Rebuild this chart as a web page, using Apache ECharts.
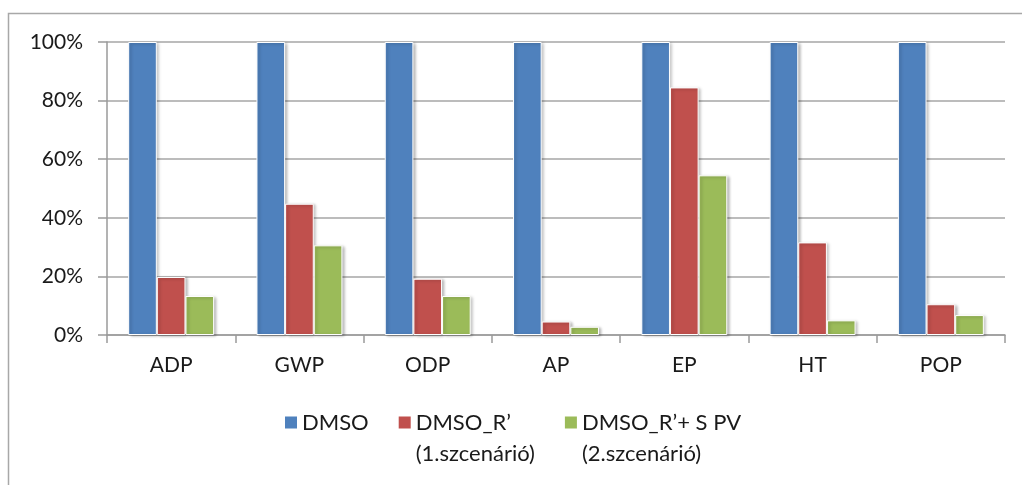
<!DOCTYPE html>
<html>
<head>
<meta charset="utf-8">
<script src="https://cdn.jsdelivr.net/npm/echarts@6/dist/echarts.min.js"></script>
<style>
    html, body { margin: 0; padding: 0; background: #fff; }
    #chart { width: 1022px; height: 485px; }
</style>
</head>
<body>
<div id="chart"></div>
<script>
    // categories and series (values in %)
    var categories = ['ADP', 'GWP', 'ODP', 'AP', 'EP', 'HT', 'POP'];
    var seriesNames = ['DMSO\n ', 'DMSO_R’\n(1.szcenárió)', 'DMSO_R’+ S PV\n(2.szcenárió)'];
    var dmso = [100, 100, 100, 100, 100, 100, 100];
    var dmsoR = [19.8, 44.8, 19.2, 4.6, 84.5, 31.6, 10.5];
    var dmsoRSPV = [13.3, 30.6, 13.3, 2.8, 54.5, 5.0, 6.8];
    var yTicks = [0, 20, 40, 60, 80, 100];

    var colors = ['#4F81BD', '#C0504D', '#9BBB59'];
    var fontName = 'Lato';

    var myChart = echarts.init(document.getElementById('chart'));

    var seriesData = [dmso, dmsoR, dmsoRSPV];
    var temp_series = [];
    for (var i = 0; i < seriesData.length; i++) {
        temp_series.push({
            name: seriesNames[i],
            type: 'bar',
            barGap: '0%',
            barCategoryGap: '33%',
            itemStyle: {
                color: colors[i],
                borderColor: '#ffffff',
                borderWidth: 1,
                shadowColor: 'rgba(0,0,0,0.28)',
                shadowBlur: 3,
                shadowOffsetX: 2,
                shadowOffsetY: 1
            },
            data: seriesData[i]
        });
    }

    // square on top of a tall (empty) box, so the icon sits by the first text line
    var legendIcon = 'path://M0,0L12,0L12,12L0,12Z M0,43L0.01,43';

    var option = {
        animation: false,
        color: colors,
        graphic: [{
            type: 'rect',
            shape: {x: 8.5, y: 13.5, width: 1100, height: 600},
            style: {fill: null, stroke: '#a8a8a8', lineWidth: 1.5},
            silent: true
        }],
        grid: {
            left: 107,
            right: 17,
            top: 42,
            bottom: 150
        },
        legend: {
            data: seriesNames,
            left: 285,
            top: 407,
            padding: 0,
            itemWidth: 12,
            itemHeight: 43,
            itemGap: 30,
            icon: legendIcon,
            itemStyle: {borderWidth: 0, shadowBlur: 0, shadowOffsetX: 0, shadowOffsetY: 0},
            textStyle: {
                fontFamily: fontName,
                fontSize: 22,
                color: '#1a1a1a',
                lineHeight: 31
            }
        },
        xAxis: {
            type: 'category',
            data: categories,
            axisLine: {lineStyle: {color: '#9a9a9a', width: 1.5}},
            axisTick: {show: true, length: 8, lineStyle: {color: '#9a9a9a', width: 1.5}},
            axisLabel: {
                fontFamily: fontName,
                fontSize: 21,
                color: '#1a1a1a',
                margin: 20
            }
        },
        yAxis: {
            type: 'value',
            min: yTicks[0],
            max: yTicks[yTicks.length - 1],
            interval: 20,
            axisLine: {show: true, lineStyle: {color: '#9a9a9a', width: 1.5}},
            axisTick: {show: true, length: 9, lineStyle: {color: '#9a9a9a', width: 1.5}},
            splitLine: {lineStyle: {color: '#a6a6a6', width: 1.5}},
            axisLabel: {
                fontFamily: fontName,
                fontSize: 21,
                color: '#1a1a1a',
                margin: 24,
                formatter: '{value}%'
            }
        },
        series: temp_series
    };

    myChart.setOption(option);
</script>
</body>
</html>
